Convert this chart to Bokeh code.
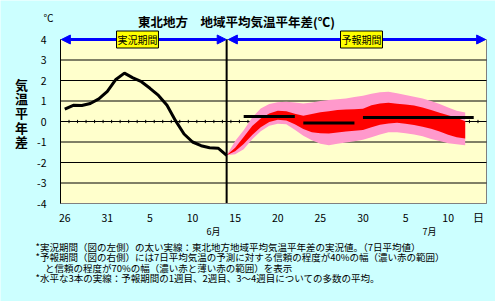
from bokeh.plotting import figure
from bokeh.models import Range1d, FixedTicker, Label, Arrow, NormalHead
from bokeh.embed import file_html
from bokeh.resources import INLINE

FONT = "Noto Sans CJK JP"

# ---- data ----
# day index 0 = May 26, ... 19 = June 14, ... 49 = July 14
n_days = 50
days_obs = list(range(0, 20))
obs = [0.60, 0.79, 0.78, 0.88, 1.10, 1.47, 2.05, 2.36, 2.13, 1.94,
       1.62, 1.27, 0.79, 0.04, -0.61, -1.00, -1.18, -1.28, -1.30, -1.65]

days_fc = list(range(19, 48))
p70_hi = [-1.65, -0.95, -0.43, 0.20, 0.63, 0.85, 0.94, 0.96, 0.93, 0.88,
          0.93, 1.00, 1.05, 1.09, 1.12, 1.19, 1.26, 1.35, 1.43, 1.45,
          1.38, 1.29, 1.21, 1.12, 1.00, 0.85, 0.68, 0.52, 0.44]
p40_hi = [-1.65, -1.28, -0.76, -0.22, 0.15, 0.39, 0.53, 0.50, 0.38, 0.28,
          0.37, 0.45, 0.50, 0.56, 0.59, 0.60, 0.62, 0.79, 0.88, 0.91,
          0.87, 0.83, 0.78, 0.68, 0.56, 0.43, 0.30, 0.18, 0.01]
p40_lo = [-1.65, -1.45, -1.10, -0.66, -0.28, -0.02, 0.08, 0.05, -0.14, -0.36,
          -0.53, -0.57, -0.59, -0.54, -0.49, -0.45, -0.41, -0.28, -0.16, -0.10,
          -0.06, -0.11, -0.17, -0.25, -0.35, -0.49, -0.65, -0.77, -0.83]
p70_lo = [-1.65, -1.60, -1.35, -0.87, -0.48, -0.21, -0.11, -0.14, -0.40, -0.70,
          -0.92, -1.08, -1.16, -1.08, -1.02, -0.96, -0.89, -0.77, -0.63, -0.53,
          -0.52, -0.57, -0.63, -0.72, -0.85, -0.95, -1.06, -1.11, -1.16]

wk_start = [21, 28, 35]
wk_end = [27, 34, 48]
wk_mean = [0.25, -0.07, 0.20]

x_ticks = [0, 5, 10, 15, 20, 25, 30, 35, 40, 45]
x_labels = ["26", "31", "5", "10", "15", "20", "25", "30", "5", "10"]
y_ticks = [-4, -3, -2, -1, 0, 1, 2, 3, 4]
month_labels = ["6月", "7月"]
month_day = [17.46, 42.8]

title_text = "東北地方　地域平均気温平年差(℃)"
ylabel_chars = ["気", "温", "平", "年", "差"]
notes = [
    "*実況期間（図の左側）の太い実線：東北地方地域平均気温平年差の実況値。（7日平均値）",
    "*予報期間（図の右側）には7日平均気温の予測に対する信頼の程度が40%の幅（濃い赤の範囲）",
    "　と信頼の程度が70%の幅（濃い赤と薄い赤の範囲）を表示",
    "*水平な3本の実線：予報期間の1週目、2週目、3～4週目についての多数の平均。",
]

# ---- geometry (pixels of the canvas) ----
W, H = 495, 301
PX_D0, PX_PER_DAY = 64.26, 8.52      # x pixel of day 0, pixels per day
PY_V0, PY_PER_UNIT = 121.0, 20.5     # y pixel of 0 degC, pixels per degC
XA, XB = -0.5, n_days - 0.5          # plot-area x extent (days)
YA, YB = y_ticks[0], y_ticks[-1]     # plot-area y extent


def X(px):
    return (px - PX_D0) / PX_PER_DAY


def Y(py):
    return (PY_V0 - py) / PY_PER_UNIT


p = figure(width=W, height=H, output_backend="svg", toolbar_location=None,
           x_range=Range1d(X(0), X(W)), y_range=Range1d(Y(H), Y(0)),
           min_border=0, min_border_left=0, min_border_right=0,
           min_border_top=0, min_border_bottom=0)
p.background_fill_color = "#CCFFFF"
p.border_fill_color = "#CCFFFF"
p.outline_line_color = None
p.xgrid.visible = False
p.ygrid.visible = False

# plot area
p.quad(left=[XA], right=[XB], bottom=[YA], top=[YB],
       fill_color="#FFFFCC", line_color="#808080", line_width=1)

# horizontal grid lines
gy = y_ticks[1:-1]
p.segment(x0=[XA] * len(gy), x1=[XB] * len(gy), y0=gy, y1=gy,
          line_color="black", line_width=1)

# axes placed at the plot-area edges
p.yaxis.fixed_location = XA
p.yaxis.bounds = (YA, YB)
p.yaxis.ticker = FixedTicker(ticks=y_ticks)
p.yaxis.major_label_overrides = {t: str(t) for t in y_ticks}
p.yaxis.axis_line_color = "black"
p.yaxis.major_tick_line_color = None
p.yaxis.minor_tick_line_color = None
p.yaxis.major_label_standoff = 8
p.yaxis.major_label_text_font = FONT
p.yaxis.major_label_text_font_size = "10.5px"
p.yaxis.major_label_text_color = "black"

p.xaxis.fixed_location = YA
p.xaxis.bounds = (XA, XB)
p.xaxis.ticker = FixedTicker(ticks=x_ticks)
p.xaxis.major_label_overrides = dict(zip(x_ticks, x_labels))
p.xaxis.axis_line_color = "#808080"
p.xaxis.major_tick_line_color = None
p.xaxis.minor_tick_line_color = None
p.xaxis.major_label_standoff = 4
p.xaxis.major_label_text_font = FONT
p.xaxis.major_label_text_font_size = "10.5px"
p.xaxis.major_label_text_color = "black"

# daily tick marks on the zero line
tx = [d + 0.5 for d in range(n_days - 1)]
p.segment(x0=tx, x1=tx, y0=[-0.08] * len(tx), y1=[0.08] * len(tx),
          line_color="black", line_width=1)

# forecast bands
p.varea(x=days_fc, y1=p70_lo, y2=p70_hi, fill_color="#FF99CC")
p.varea(x=days_fc, y1=p40_lo, y2=p40_hi, fill_color="#FF0000")

# weekly means
p.segment(x0=wk_start, x1=wk_end, y0=wk_mean, y1=wk_mean,
          line_color="black", line_width=3)

# observed
p.line(days_obs, obs, line_color="black", line_width=3)

# divider between observed and forecast periods
p.segment(x0=[days_obs[-1]], x1=[days_obs[-1]], y0=[YA], y1=[YB],
          line_color="black", line_width=2)

# period arrows
for xs, xe in [(XA + 0.1, days_obs[-1] - 0.05), (days_obs[-1] + 0.2, XB - 0.1)]:
    p.add_layout(Arrow(x_start=xs, x_end=xe, y_start=YB, y_end=YB,
                       line_color="#0000FF", line_width=3,
                       start=NormalHead(size=9, fill_color="#0000FF", line_color="#0000FF"),
                       end=NormalHead(size=9, fill_color="#0000FF", line_color="#0000FF")))

for txt, pxc in [("実況期間", 137), ("予報期間", 361)]:
    p.add_layout(Label(x=X(pxc), y=YB, text=txt, text_align="center", text_baseline="middle",
                       text_font=FONT, text_font_size="10px", text_color="black",
                       background_fill_color="#FFFF00", border_line_color="black",
                       padding=1))

# title and unit
p.add_layout(Label(x=X(236), y=Y(21), text=title_text, text_align="center",
                   text_baseline="middle", text_font=FONT, text_font_size="12.5px",
                   text_font_style="bold", text_color="black"))
p.add_layout(Label(x=X(48), y=Y(17), text="℃", text_align="center",
                   text_baseline="middle", text_font=FONT, text_font_size="10px",
                   text_color="black"))

# vertical y label
for i, ch in enumerate(ylabel_chars):
    p.add_layout(Label(x=X(21), y=Y(84 + 14.2 * i), text=ch,
                       text_align="center", text_baseline="middle", text_font=FONT,
                       text_font_size="13px", text_font_style="bold", text_color="black"))

# day unit and months
p.add_layout(Label(x=X(478), y=Y(216), text="日", text_align="center",
                   text_baseline="middle", text_font=FONT, text_font_size="11px",
                   text_color="black"))
for m, dm in zip(month_labels, month_day):
    p.add_layout(Label(x=dm, y=Y(231), text=m, text_align="center",
                       text_baseline="middle", text_font=FONT, text_font_size="9px",
                       text_color="black"))

# footnotes
for i, t in enumerate(notes):
    p.add_layout(Label(x=X(35), y=Y(246 + 10.6 * i), text=t, text_align="left",
                       text_baseline="middle", text_font=FONT, text_font_size="9.5px",
                       text_color="black"))

open("out.html", "w").write(file_html(p, INLINE))
